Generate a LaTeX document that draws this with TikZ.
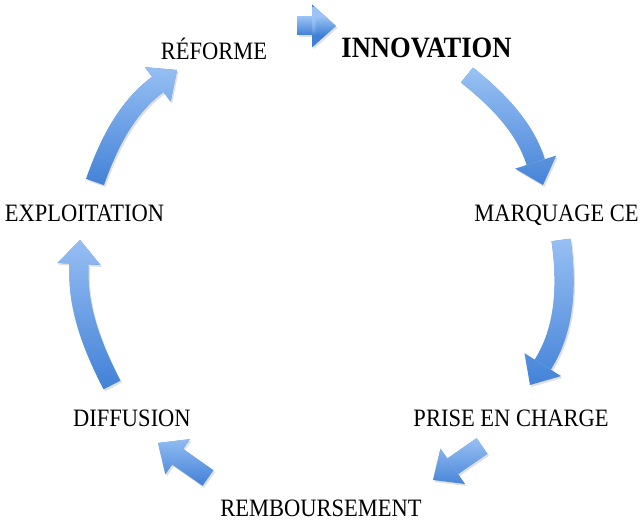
\documentclass[tikz,border=0pt]{standalone}
\usepackage{fontspec}
\setmainfont{Liberation Serif}[FakeStretch=0.9]
\usepackage{tikz}
\usetikzlibrary{arrows.meta}
\usetikzlibrary{fadings}
\definecolor{arrowlight}{HTML}{9CC3F5}
\definecolor{arrowdark}{HTML}{3F7FD6}

\begin{document}
\begin{tikzpicture}[x=1pt,y=1pt,
  cyc/.style={line width=19pt,-{Triangle[width=43pt,length=24pt,line width=0pt]}},
  stage/.style={anchor=base,inner sep=0pt,font=\fontsize{25}{25}\selectfont}]
\useasboundingbox (0,0) rectangle (642,521);

% stages of the cycle
\node[stage] (reforme) at (214,461) {RÉFORME};
\node[stage,font=\fontsize{29.5}{29.5}\selectfont\bfseries] (innov) at (426.5,463) {INNOVATION};
\node[stage] (marquage) at (556.5,299) {MARQUAGE CE};
\node[stage] (prise) at (511,94) {PRISE EN CHARGE};
\node[stage] (rembours) at (321,4) {REMBOURSEMENT};
\node[stage] (diffusion) at (132,94) {DIFFUSION};
\node[stage] (exploit) at (84.5,299) {EXPLOITATION};

% ends of the arrows
\coordinate (s1) at (297,495); \coordinate (e1) at (336,495);
\coordinate (s2) at (467,446); \coordinate (e2) at (543,336);
\coordinate (s3) at (561,281); \coordinate (e3) at (530,136);
\coordinate (s4) at (482,75);  \coordinate (e4) at (433,41);
\coordinate (s5) at (208,43);  \coordinate (e5) at (158,78);
\coordinate (s6) at (112,136); \coordinate (e6) at (80,281);
\coordinate (s7) at (95,339);  \coordinate (e7) at (177,451);

\foreach \s/\e/\bend in {s1/e1/0, s2/e2/17, s3/e3/20, s4/e4/0, s5/e5/0, s6/e6/15, s7/e7/17}
{
  \draw[cyc,black,opacity=.12,transform canvas={shift={(1.5pt,-2pt)}}] (\s) to[bend left=\bend] (\e);
  \draw[cyc,arrowdark] (\s) to[bend left=\bend] (\e);
  \draw[cyc,arrowlight,path fading=south] (\s) to[bend left=\bend] (\e);
}
\end{tikzpicture}
\end{document}
